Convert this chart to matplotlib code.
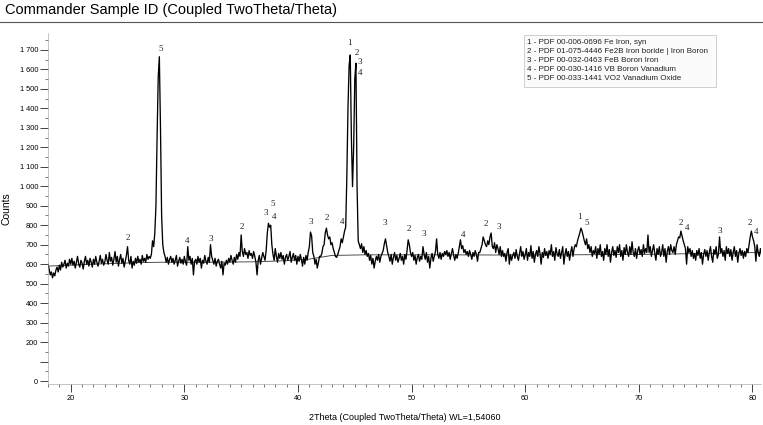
import matplotlib
matplotlib.use("Agg")
from matplotlib import pyplot as plt
from matplotlib.lines import Line2D
from matplotlib.patches import Rectangle
import numpy as np

# scan settings (2Theta grid, 0.1 deg step)
theta_start = 18.0
theta_step = 0.1

# measured counts, one row per degree (x.0 ... x.9)
counts = [
    600, 575, 545, 560, 530, 555, 540, 570, 585, 560,  # 18
    595, 570, 610, 585, 600, 620, 580, 605, 590, 625,  # 19
    600, 630, 595, 615, 580, 610, 640, 600, 585, 620,  # 20
    605, 575, 615, 640, 600, 620, 590, 630, 610, 585,  # 21
    625, 600, 640, 610, 590, 615, 645, 605, 625, 595,  # 22
    610, 650, 620, 600, 660, 615, 635, 595, 625, 665,  # 23
    610, 640, 590, 625, 650, 605, 630, 585, 615, 645,  # 24
    690, 620, 600, 640, 580, 615, 595, 630, 605, 640,  # 25
    610, 625, 600, 645, 615, 630, 610, 650, 625, 640,  # 26
    630, 650, 720, 690, 760, 900, 1250, 1560, 1665, 1300,  # 27
    850, 700, 660, 640, 610, 635, 600, 625, 640, 610,  # 28
    630, 600, 620, 645, 590, 615, 635, 605, 625, 600,  # 29
    640, 610, 595, 690, 620, 640, 600, 630, 545, 615,  # 30
    625, 600, 640, 610, 630, 580, 620, 605, 645, 615,  # 31
    600, 635, 610, 700, 640, 620, 600, 630, 590, 615,  # 32
    625, 600, 580, 615, 545, 605, 595, 620, 600, 630,  # 33
    610, 645, 620, 600, 635, 610, 650, 625, 660, 640,  # 34
    750, 665, 640, 680, 650, 660, 630, 670, 645, 655,  # 35
    630, 665, 640, 610, 545, 620, 645, 600, 630, 660,  # 36
    640, 620, 670, 760, 810, 790, 800, 700, 650, 620,  # 37
    680, 640, 610, 655, 630, 660, 625, 645, 600, 635,  # 38
    650, 620, 640, 665, 610, 635, 655, 620, 645, 600,  # 39
    640, 615, 650, 625, 590, 635, 600, 645, 620, 660,  # 40
    690, 765, 745, 660, 640, 600, 625, 580, 610, 640,  # 41
    640, 655, 690, 700, 760, 785, 750, 730, 740, 700,  # 42
    710, 680, 660, 640, 635, 650, 670, 690, 730, 710,  # 43
    740, 770, 790, 1050, 1400, 1620, 1674, 1250, 998, 1200,  # 44
    1550, 1632, 1000, 720, 700, 680, 705, 660, 690, 650,  # 45
    670, 640, 655, 620, 645, 600, 630, 580, 615, 640,  # 46
    620, 650, 610, 640, 655, 670, 705, 730, 695, 660,  # 47
    640, 615, 650, 600, 635, 660, 620, 645, 610, 630,  # 48
    655, 620, 640, 600, 650, 625, 670, 725, 700, 660,  # 49
    640, 660, 620, 645, 600, 635, 650, 615, 640, 625,  # 50
    690, 650, 625, 660, 610, 640, 580, 630, 655, 615,  # 51
    640, 665, 730, 650, 630, 660, 625, 655, 640, 665,  # 52
    650, 670, 640, 660, 625, 655, 680, 645, 620, 650,  # 53
    630, 655, 690, 725, 680, 695, 660, 675, 650, 665,  # 54
    640, 670, 650, 625, 660, 640, 670, 650, 615, 660,  # 55
    660, 680, 700, 740, 720, 700, 690, 720, 700, 740,  # 56
    760, 690, 680, 710, 660, 700, 680, 650, 690, 640,  # 57
    670, 640, 655, 615, 660, 680, 600, 650, 620, 645,  # 58
    660, 630, 675, 640, 620, 655, 690, 640, 665, 625,  # 59
    650, 680, 620, 660, 640, 695, 630, 665, 610, 650,  # 60
    670, 640, 690, 655, 600, 660, 635, 680, 645, 665,  # 61
    630, 670, 650, 700, 640, 665, 620, 685, 655, 640,  # 62
    675, 630, 660, 690, 600, 650, 680, 640, 665, 620,  # 63
    660, 690, 640, 680, 700, 690, 720, 740, 760, 785,  # 64
    770, 745, 720, 700, 730, 680, 700, 660, 690, 640,  # 65
    670, 655, 690, 630, 680, 650, 700, 640, 665, 620,  # 66
    680, 650, 700, 640, 675, 610, 660, 690, 645, 670,  # 67
    635, 690, 660, 700, 640, 670, 620, 685, 650, 700,  # 68
    660, 640, 690, 650, 715, 660, 640, 680, 630, 670,  # 69
    690, 650, 675, 640, 700, 655, 680, 660, 750, 660,  # 70
    690, 640, 670, 700, 655, 620, 680, 650, 690, 640,  # 71
    660, 700, 640, 680, 610, 665, 690, 650, 700, 670,  # 72
    660, 690, 650, 700, 720, 740, 735, 770, 745, 720,  # 73
    700, 680, 600, 690, 660, 680, 640, 670, 630, 655,  # 74
    620, 670, 645, 680, 630, 660, 600, 650, 675, 640,  # 75
    670, 620, 660, 690, 640, 610, 675, 650, 690, 630,  # 76
    650, 740, 660, 680, 640, 670, 620, 690, 655, 680,  # 77
    640, 675, 620, 660, 690, 640, 670, 610, 655, 680,  # 78
    645, 670, 630, 665, 640, 680, 660, 700, 740, 770,  # 79
    740, 720, 690, 615, 700, 660, 640, 680, 650,       # 80
]

# fitted background line
bg_theta = [18.0, 22.0, 26.0, 28.0, 32.0, 36.0, 39.0, 41.0, 43.0, 46.0, 52.0, 58.0, 64.0, 70.0, 76.0, 80.8]
bg_counts = [590, 600, 608, 610, 610, 612, 618, 626, 645, 648, 648, 647, 648, 650, 655, 660]

# phase markers above the peaks
mark_theta = [25.04, 27.9, 30.28, 32.3, 35.05, 37.2, 37.78, 37.87, 41.09, 42.5, 43.87,
              44.49, 45.19, 45.48, 45.48, 47.68, 49.8, 51.05, 54.56, 56.56, 57.7,
              64.8, 65.4, 73.7, 74.25, 77.1, 79.8, 80.3]
mark_counts = [733, 1705, 719, 729, 792, 864, 909, 841, 818, 835, 818,
               1734, 1686, 1640, 1583, 810, 781, 753, 750, 806, 789,
               844, 810, 810, 784, 770, 813, 765]
mark_text = ["2", "5", "4", "3", "2", "3", "5", "4", "3", "2", "4",
             "1", "2", "3", "4", "3", "2", "3", "4", "2", "3",
             "1", "5", "2", "4", "3", "2", "4"]

legend_entries = [
    "1 - PDF 00-006-0696 Fe Iron, syn",
    "2 - PDF 01-075-4446 Fe2B Iron boride | Iron Boron",
    "3 - PDF 00-032-0463 FeB Boron Iron",
    "4 - PDF 00-030-1416 VB Boron Vanadium",
    "5 - PDF 00-033-1441 VO2 Vanadium Oxide",
]

plt.rcParams['font.family'] = ['Liberation Sans', 'DejaVu Sans']

two_theta = theta_start + theta_step * np.arange(len(counts))

fig = plt.figure(figsize=(7.63, 4.25), dpi=100)
ax = fig.add_axes([0.0629, 0.0965, 0.9345, 0.826])

ax.plot(bg_theta, bg_counts, color='#333333', lw=0.6)
ax.plot(two_theta, counts, color='black', lw=0.95)

for t, c, s in zip(mark_theta, mark_counts, mark_text):
    ax.text(t, c, s, ha='center', va='center', fontsize=6.5, family='Liberation Serif', color='#222222')

ax.set_xlim(18.07, 80.75)
ax.set_ylim(-15, 1787)

# ticks
ax.set_xticks(np.arange(20, 81, 10))
ax.set_xticks(np.arange(18, 81, 1), minor=True)
yt = np.arange(0, 1701, 100)
ax.set_yticks(yt)
ax.set_yticklabels(["" if v == 100 else f"{v:,}".replace(",", " ") for v in yt])
ax.set_yticks(np.arange(50, 1751, 100), minor=True)
ax.tick_params(axis='both', which='major', labelsize=5.3, length=6, width=0.6, pad=1, color='#222222')
ax.tick_params(axis='both', which='minor', length=2.5, width=0.5, color='#444444')
ax.tick_params(axis='x', which='major', pad=2)

for side in ['top', 'right']:
    ax.spines[side].set_visible(False)
for side in ['left', 'bottom']:
    ax.spines[side].set_linewidth(0.4)
    ax.spines[side].set_color('#999999')

ax.set_xlabel("2Theta (Coupled TwoTheta/Theta) WL=1,54060", fontsize=6.5, labelpad=8)
ax.set_ylabel("Counts", fontsize=7.5, labelpad=6)

# title and rule
fig.text(0.007, 0.976, "Commander Sample ID (Coupled TwoTheta/Theta)", fontsize=10.5, va='center', ha='left')
fig.add_artist(Line2D([0, 1], [0.948, 0.948], color='#555555', lw=0.8))

# legend box
fig.add_artist(Rectangle((0.6868, 0.7953), 0.2516, 0.1224, transform=fig.transFigure,
                         facecolor='#fbfbfb', edgecolor='#c8c8c8', lw=0.6))
for i, entry in enumerate(legend_entries):
    fig.text(0.691, (425 - 42.5 - 9 * i) / 425, entry, fontsize=5.8, va='center', ha='left', color='#222222')

fig.savefig("out.png", dpi=100)
